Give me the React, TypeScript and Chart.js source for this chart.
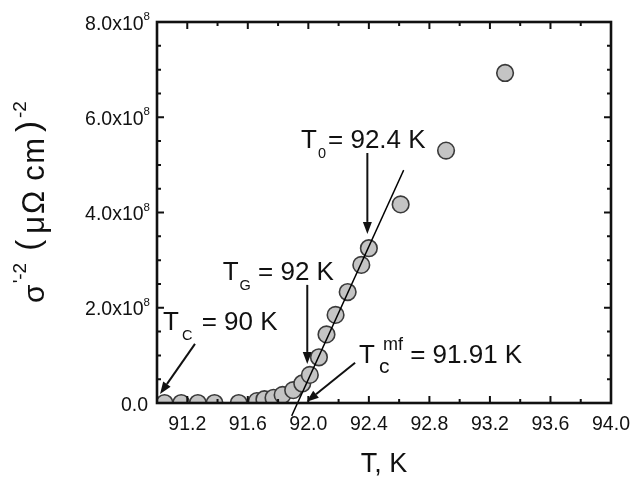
import React, { useEffect, useRef } from 'react';
import { Chart, registerables } from 'chart.js';

Chart.register(...registerables);

// ---- data ----
const TEMPERATURES = [91.05, 91.16, 91.27, 91.38, 91.54, 91.66, 91.71, 91.77, 91.83, 91.9, 91.96, 92.01, 92.07, 92.12, 92.18, 92.26, 92.35, 92.4, 92.61, 92.91, 93.3];
const SIGMA_M2 = [0, 0, 0, 0, 0, 0.04e8, 0.08e8, 0.11e8, 0.17e8, 0.27e8, 0.41e8, 0.59e8, 0.96e8, 1.44e8, 1.85e8, 2.33e8, 2.9e8, 3.25e8, 4.17e8, 5.3e8, 6.93e8];

const FIT_T = [91.89, 92.63];
const FIT_V = [-0.27e8, 4.89e8];

const X_MIN = 91.0;
const X_MAX = 94.0;
const Y_MIN = 0;
const Y_MAX = 8e8;

const X_MAJOR = [91.2, 91.6, 92.0, 92.4, 92.8, 93.2, 93.6, 94.0];
const X_LABELS = ['91.2', '91.6', '92.0', '92.4', '92.8', '93.2', '93.6', '94.0'];
const X_MINOR = [91.4, 91.8, 92.2, 92.6, 93.0, 93.4, 93.8];

const Y_MAJOR = [0, 2e8, 4e8, 6e8, 8e8];
const Y_LABELS = ['0.0', '2.0', '4.0', '6.0', '8.0'];
const Y_MINOR = [0.5e8, 1e8, 1.5e8, 2.5e8, 3e8, 3.5e8, 4.5e8, 5e8, 5.5e8, 6.5e8, 7e8, 7.5e8];

// annotations: text anchor (left, baseline) and arrows, in data units
const LABEL_T0 = { t: 91.952, v: 5.357e8, main: 'T', sub: '0', rest: '= 92.4 K', restGap: 2 };
const LABEL_TG = { t: 91.434, v: 2.584e8, main: 'T', sub: 'G', rest: ' = 92 K', restGap: 0 };
const LABEL_TC = { t: 91.04, v: 1.534e8, main: 'T', sub: 'C', rest: ' = 90 K', restGap: 2 };
const LABEL_TMF = { t: 92.335, v: 0.834e8, main: 'T', sub: 'c', sup: 'mf', rest: ' = 91.91 K' };

const ARROW_T0 = [[92.39, 5.25e8], [92.39, 3.55e8]];
const ARROW_TG = [[91.993, 2.48e8], [91.993, 0.82e8]];
const ARROW_TC = [[91.251, 1.24e8], [91.02, 0.19e8]];
const ARROW_TMF = [[92.309, 0.847e8], [91.989, 0.027e8]];

const FONT = '"Liberation Sans", Arial, Helvetica, sans-serif';
const INK = '#111111';

type Part = { t: string; size: number; dy?: number; gap?: number; noAdvance?: boolean };

function drawParts(ctx: CanvasRenderingContext2D, x: number, y: number, parts: Part[]) {
  let cx = x;
  for (const p of parts) {
    if (p.gap) cx += p.gap;
    if (!p.t) continue;
    ctx.font = `${p.size}px ${FONT}`;
    ctx.fillText(p.t, cx, y + (p.dy || 0));
    if (!p.noAdvance) cx += ctx.measureText(p.t).width;
  }
  return cx - x;
}

function measureParts(ctx: CanvasRenderingContext2D, parts: Part[]) {
  let w = 0;
  for (const p of parts) {
    if (p.gap) w += p.gap;
    if (!p.t) continue;
    ctx.font = `${p.size}px ${FONT}`;
    if (!p.noAdvance) w += ctx.measureText(p.t).width;
  }
  return w;
}

function drawArrow(ctx: CanvasRenderingContext2D, x1: number, y1: number, x2: number, y2: number) {
  const ang = Math.atan2(y2 - y1, x2 - x1);
  const headLen = 12;
  const headW = 4.5;
  const bx = x2 - headLen * Math.cos(ang);
  const by = y2 - headLen * Math.sin(ang);
  ctx.beginPath();
  ctx.moveTo(x1, y1);
  ctx.lineTo(bx, by);
  ctx.lineWidth = 2;
  ctx.strokeStyle = INK;
  ctx.stroke();
  ctx.beginPath();
  ctx.moveTo(x2, y2);
  ctx.lineTo(bx + headW * Math.sin(ang), by - headW * Math.cos(ang));
  ctx.lineTo(bx - headW * Math.sin(ang), by + headW * Math.cos(ang));
  ctx.closePath();
  ctx.fillStyle = INK;
  ctx.fill();
}

const decorPlugin = {
  id: 'decor',
  afterDatasetsDraw(chart: any) {
    const ctx: CanvasRenderingContext2D = chart.ctx;
    const xs = chart.scales.x;
    const ys = chart.scales.y;
    const a = chart.chartArea;
    ctx.save();

    // frame
    ctx.strokeStyle = INK;
    ctx.lineWidth = 2.6;
    ctx.strokeRect(a.left, a.top, a.right - a.left, a.bottom - a.top);

    // ticks (inward, all four sides)
    ctx.lineWidth = 2;
    const tick = (len: number, vals: number[], axis: 'x' | 'y') => {
      ctx.beginPath();
      for (const v of vals) {
        if (axis === 'x') {
          const px = xs.getPixelForValue(v);
          ctx.moveTo(px, a.bottom); ctx.lineTo(px, a.bottom - len);
          ctx.moveTo(px, a.top); ctx.lineTo(px, a.top + len);
        } else {
          const py = ys.getPixelForValue(v);
          ctx.moveTo(a.left, py); ctx.lineTo(a.left + len, py);
          ctx.moveTo(a.right, py); ctx.lineTo(a.right - len, py);
        }
      }
      ctx.stroke();
    };
    tick(7, X_MAJOR, 'x');
    tick(4, X_MINOR, 'x');
    tick(7, Y_MAJOR, 'y');
    tick(4, Y_MINOR, 'y');

    // x tick labels
    ctx.fillStyle = INK;
    ctx.textBaseline = 'alphabetic';
    ctx.font = `19.5px ${FONT}`;
    ctx.textAlign = 'center';
    X_MAJOR.forEach((v, i) => {
      ctx.fillText(X_LABELS[i], xs.getPixelForValue(v), a.bottom + 26.5);
    });

    // y tick labels
    ctx.textAlign = 'left';
    Y_MAJOR.forEach((v, i) => {
      const py = ys.getPixelForValue(v);
      const parts: Part[] = v === 0
        ? [{ t: Y_LABELS[i], size: 19.5 }]
        : [{ t: Y_LABELS[i] + 'x10', size: 19.5 }, { t: '8', size: 11.5, dy: -9.5 }];
      const w = measureParts(ctx, parts);
      const right = v === 0 ? a.left - 9 : a.left - 7;
      drawParts(ctx, right - w, py + 7.5, parts);
    });

    // x title
    ctx.textAlign = 'center';
    ctx.font = `27px ${FONT}`;
    ctx.fillText('T, K', (a.left + a.right) / 2, a.bottom + 69);

    // y title (rotated)
    ctx.textAlign = 'left';
    const yParts: Part[] = [
      { t: 'σ', size: 30 },
      { t: "'-2", size: 19, dy: -18, gap: 1 },
      { t: '(', size: 33, dy: -5, gap: 12 },
      { t: 'μ', size: 31, gap: 6 },
      { t: 'Ω', size: 31, gap: 2 },
      { t: 'c', size: 31, gap: 10 },
      { t: 'm', size: 31, gap: 1.5 },
      { t: ')', size: 33, dy: -5, gap: 6 },
      { t: '-2', size: 19, dy: -18, gap: 3 },
    ];
    const yw = measureParts(ctx, yParts);
    ctx.save();
    ctx.translate(a.left - 113, 202);
    ctx.rotate(-Math.PI / 2);
    drawParts(ctx, -yw / 2, 0, yParts);
    ctx.restore();

    // annotations
    const main = 26;
    const small = 14.5;
    const simpleLabel = (L: any) => {
      const x = xs.getPixelForValue(L.t);
      const y = ys.getPixelForValue(L.v);
      drawParts(ctx, x, y, [
        { t: L.main, size: main },
        { t: L.sub, size: small, dy: 10, gap: L.sub === 'C' ? 3 : 1 },
        { t: L.rest, size: main, gap: L.restGap },
      ]);
    };
    simpleLabel(LABEL_T0);
    simpleLabel(LABEL_TG);
    simpleLabel(LABEL_TC);
    {
      const x = xs.getPixelForValue(LABEL_TMF.t);
      const y = ys.getPixelForValue(LABEL_TMF.v);
      drawParts(ctx, x, y, [
        { t: LABEL_TMF.main, size: main },
        { t: LABEL_TMF.sub, size: 21, dy: 9.5, gap: 4, noAdvance: true },
        { t: LABEL_TMF.sup, size: 18, dy: -13, gap: 4 },
        { t: LABEL_TMF.rest, size: main },
      ]);
    }

    for (const ar of [ARROW_T0, ARROW_TG, ARROW_TC, ARROW_TMF]) {
      drawArrow(ctx,
        xs.getPixelForValue(ar[0][0]), ys.getPixelForValue(ar[0][1]),
        xs.getPixelForValue(ar[1][0]), ys.getPixelForValue(ar[1][1]));
    }

    ctx.restore();
  },
};

export default function App() {
  const ref = useRef<HTMLCanvasElement | null>(null);

  useEffect(() => {
    if (!ref.current) return;
    const points = TEMPERATURES.map((t, i) => ({ x: t, y: SIGMA_M2[i] }));
    const fit = FIT_T.map((t, i) => ({ x: t, y: FIT_V[i] }));
    const chart = new Chart(ref.current, {
      type: 'scatter',
      data: {
        datasets: [
          {
            type: 'line',
            label: 'fit',
            data: fit,
            borderColor: '#000000',
            borderWidth: 1.4,
            pointRadius: 0,
            showLine: true,
            fill: false,
            clip: false,
          } as any,
          {
            label: 'data',
            data: points,
            pointRadius: 8.3,
            pointBackgroundColor: '#c4c4c4',
            pointBorderColor: '#3a3a3a',
            pointBorderWidth: 1.6,
            showLine: false,
          },
        ],
      },
      options: {
        animation: false,
        responsive: false,
        maintainAspectRatio: false,
        events: [],
        layout: { padding: { left: 157, top: 22, right: 21, bottom: 74 } },
        plugins: { legend: { display: false }, tooltip: { enabled: false } },
        scales: {
          x: { type: 'linear', min: X_MIN, max: X_MAX, display: false },
          y: { type: 'linear', min: Y_MIN, max: Y_MAX, display: false },
        },
      },
      plugins: [decorPlugin],
    });
    return () => chart.destroy();
  }, []);

  return (
    <div style={{ position: 'absolute', left: 0, top: 0, width: 632, height: 477, background: '#ffffff' }}>
      <canvas ref={ref} width={632} height={477} style={{ display: 'block' }} />
    </div>
  );
}
